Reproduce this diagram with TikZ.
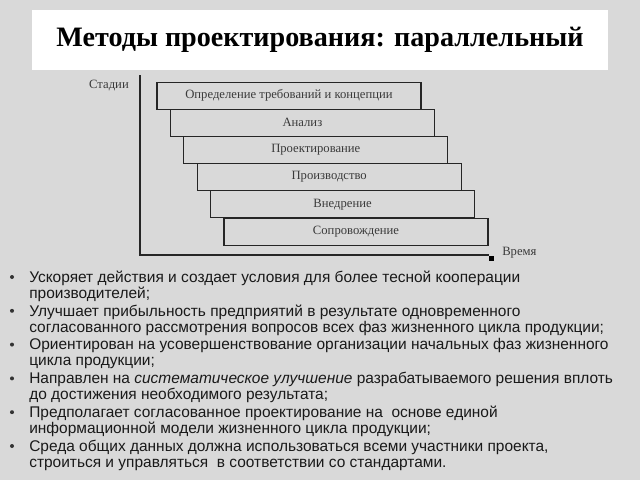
\documentclass[tikz,border=0pt]{standalone}
\usepackage{fontspec}
\setmainfont{Liberation Serif}
\setsansfont{Liberation Sans}
\usetikzlibrary{positioning}
\definecolor{slidebg}{HTML}{D9D9D9}
\definecolor{stagetext}{HTML}{3A3A3A}

\begin{document}
\begin{tikzpicture}[x=0.025cm,y=-0.025cm,
  stagebox/.style={draw=black!85,line width=0.8pt,fill=slidebg,minimum width=6.6cm,minimum height=0.675cm,inner sep=0pt,text=stagetext,font=\fontsize{9}{10}\selectfont},
  axislabel/.style={inner sep=0pt,text=stagetext,font=\fontsize{9}{10}\selectfont},
  bullettext/.style={anchor=north west,align=left,inner sep=0pt,font=\sffamily\fontsize{11}{11.5}\selectfont,text=black!90},
  dot/.style={circle,fill=black!80,inner sep=0pt,minimum size=0.1cm}]
\useasboundingbox[fill=slidebg] (0,0) rectangle (640,480);

% title
\node[fill=white,minimum width=14.4cm,minimum height=1.5cm,font=\fontsize{20}{22}\selectfont\bfseries] (title) at (320,40) {Методы проектирования: параллельный};

% stages
\node[stagebox] (s1) at (289,95.6) {Определение требований и концепции};
\node[stagebox] (s2) at (302.4,122.8) {Анализ};
\node[stagebox] (s3) at (315.8,150) {Проектирование};
\node[stagebox] (s4) at (329.2,177.2) {Производство};
\node[stagebox] (s5) at (342.6,204.4) {Внедрение};
\node[stagebox] (s6) at (356,231.6) {Сопровождение};

% axes
\coordinate (ytop) at (140,75);
\coordinate (orig) at (140,255);
\node[fill=black,inner sep=0pt,minimum size=0.125cm] (xtip) at (491.5,258.5) {};
\draw[line width=0.8pt,black!85] (ytop) -- (orig) -- (xtip.west |- orig);
\node[axislabel] (stages) at (109,86) {Стадии};
\node[axislabel,anchor=base west] (time) at (502,255) {Время};

% bullets
\node[dot] (d1) at (12,277) {};
\node[dot] (d2) at (12,310.8) {};
\node[dot] (d3) at (12,344.6) {};
\node[dot] (d4) at (12,378.4) {};
\node[dot] (d5) at (12,412.2) {};
\node[dot] (d6) at (12,446) {};
\node[bullettext] (b1) at (29,270.5) {Ускоряет действия и создает условия для более тесной кооперации\\производителей;};
\node[bullettext] (b2) at (29,304.3) {Улучшает прибыльность предприятий в результате одновременного\\согласованного рассмотрения вопросов всех фаз жизненного цикла продукции;};
\node[bullettext] (b3) at (29,338.1) {Ориентирован на усовершенствование организации начальных фаз жизненного\\цикла продукции;};
\node[bullettext] (b4) at (29,371.9) {Направлен на \textit{систематическое улучшение} разрабатываемого решения вплоть\\до достижения необходимого результата;};
\node[bullettext] (b5) at (29,405.7) {Предполагает согласованное проектирование на\ \ основе единой\\информационной модели жизненного цикла продукции;};
\node[bullettext] (b6) at (29,439.5) {Среда общих данных должна использоваться всеми участники проекта,\\строиться и управляться\ \ в соответствии со стандартами.};
\end{tikzpicture}
\end{document}
